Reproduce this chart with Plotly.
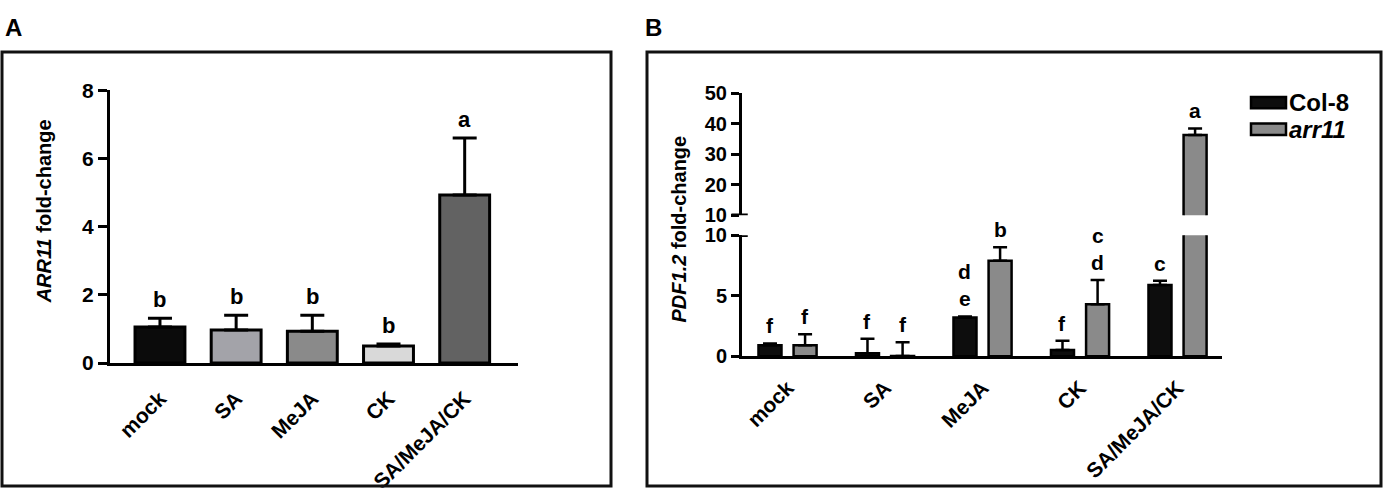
import plotly.graph_objects as go

W, H = 1387, 499
FONT = "Arial, Liberation Sans, sans-serif"

# panel A: ARR11 fold-change
treatments = ["mock", "SA", "MeJA", "CK", "SA/MeJA/CK"]
arr11_fc = [1.06, 0.97, 0.93, 0.50, 4.93]
arr11_fc_err = [0.25, 0.43, 0.47, 0.06, 1.67]
arr11_letters = ["b", "b", "b", "b", "a"]
bar_colors_a = ["#0b0b0b", "#a3a3a9", "#8a8a8a", "#d9d9d9", "#626262"]

# panel B: PDF1.2 fold-change
genotypes = ["Col-8", "arr11"]
col8_fc = [0.92, 0.25, 3.2, 0.53, 5.9]
col8_fc_err = [0.15, 1.2, 0.1, 0.76, 0.34]
col8_letters = ["f", "f", "d\ne", "f", "c"]
arr11_mut_fc = [0.92, 0.02, 7.9, 4.3, 36.3]
arr11_mut_fc_err = [0.9, 1.15, 1.1, 2.0, 2.1]
arr11_mut_letters = ["f", "f", "b", "c\nd", "a"]
geno_colors = ["#0d0d0d", "#8a8a8a"]


def px(x):
    return x / W


def py(y):
    return 1 - y / H


fig = go.Figure()

# ---- panel A bars
fig.add_trace(go.Bar(
    x=treatments, y=arr11_fc, width=0.655,
    marker=dict(color=bar_colors_a, line=dict(color="black", width=3)),
    error_y=dict(type="data", symmetric=False, array=arr11_fc_err,
                 arrayminus=[0] * len(arr11_fc), color="black", thickness=3, width=12),
    xaxis="x", yaxis="y", showlegend=False,
))

# ---- panel B bars (broken axis: lower 0-10, upper 10-50)
bw = 0.236
offsets = [-0.18, 0.18]
series_b = [(col8_fc, col8_fc_err), (arr11_mut_fc, arr11_mut_fc_err)]
for yax in ["y2", "y3"]:
    for (vals, errs), off, col in zip(series_b, offsets, geno_colors):
        fig.add_trace(go.Bar(
            x=treatments, y=vals, width=bw, offset=off - bw / 2,
            marker=dict(color=col, line=dict(color="black", width=2.5)),
            error_y=dict(type="data", symmetric=False, array=errs,
                         arrayminus=[0] * len(vals), color="black", thickness=2.5, width=7),
            xaxis="x2", yaxis=yax, showlegend=False,
        ))

annotations = []


def add_letters(vals, errs, letters, xref, xoff, size, lower_max=None):
    for i, (v, e, lab) in enumerate(zip(vals, errs, letters)):
        yref = "y"
        if lower_max is not None:
            yref = "y3" if v + e > lower_max else "y2"
        for k, p in enumerate(reversed(lab.split("\n"))):
            annotations.append(dict(
                x=i + xoff, y=v + e, xref=xref, yref=yref, text=f"<b>{p}</b>",
                showarrow=False, yanchor="bottom", yshift=4 + 27 * k,
                font=dict(family=FONT, size=size, color="black"),
            ))


add_letters(arr11_fc, arr11_fc_err, arr11_letters, "x", 0, 22)
add_letters(col8_fc, col8_fc_err, col8_letters, "x2", offsets[0], 21, lower_max=10)
add_letters(arr11_mut_fc, arr11_mut_fc_err, arr11_mut_letters, "x2", offsets[1], 21, lower_max=10)

# panel labels and axis titles
annotations += [
    dict(x=px(3), y=py(16), xref="paper", yref="paper", text="<b>A</b>", showarrow=False,
         xanchor="left", yanchor="middle", font=dict(family=FONT, size=24, color="black")),
    dict(x=px(643), y=py(16), xref="paper", yref="paper", text="<b>B</b>", showarrow=False,
         xanchor="left", yanchor="middle", font=dict(family=FONT, size=24, color="black")),
    dict(x=px(44), y=py(209), xref="paper", yref="paper", textangle=-90,
         text="<b><i>ARR11</i> fold-change</b>", showarrow=False,
         xanchor="center", yanchor="middle", font=dict(family=FONT, size=20, color="black")),
    dict(x=px(679), y=py(228), xref="paper", yref="paper", textangle=-90,
         text="<b><i>PDF1.2</i> fold-change</b>", showarrow=False,
         xanchor="center", yanchor="middle", font=dict(family=FONT, size=20, color="black")),
]

# legend for panel B drawn by hand (wide swatches)
shapes = []
leg_y = [95, 123]
for name, col, yy in zip(genotypes, geno_colors, leg_y):
    shapes.append(dict(type="rect", xref="paper", yref="paper",
                       x0=px(1251), x1=px(1286), y0=py(yy + 6), y1=py(yy - 6),
                       fillcolor=col, line=dict(color="black", width=2.5)))
    txt = f"<b>{name}</b>" if name == "Col-8" else f"<b><i>{name}</i></b>"
    annotations.append(dict(x=px(1287), y=py(yy), xref="paper", yref="paper", text=txt,
                            showarrow=False, xanchor="left", yanchor="middle",
                            font=dict(family=FONT, size=24, color="black")))

# frames
for x0, x1 in [(2, 611), (647, 1381)]:
    shapes.append(dict(type="rect", xref="paper", yref="paper",
                       x0=px(x0), x1=px(x1), y0=py(497), y1=py(42),
                       line=dict(color="#111111", width=3)))

# break marks on the B y axis
for yr in ["y2", "y3"]:
    shapes.append(dict(type="line", xref="x2 domain", yref=yr, x0=-0.022, x1=0.012,
                       y0=10, y1=10, line=dict(color="black", width=3.5)))

tickfont_a = dict(family=FONT, size=21, color="black", weight="bold")
tickfont_b = dict(family=FONT, size=20, color="black", weight="bold")

fig.update_layout(
    width=W, height=H,
    margin=dict(l=0, r=0, t=0, b=0),
    paper_bgcolor="white", plot_bgcolor="white",
    barmode="overlay",
    showlegend=False,
    annotations=annotations,
    shapes=shapes,
    xaxis=dict(domain=[px(110), px(518)], range=[-0.656, 4.70], anchor="y",
               showline=True, linecolor="black", linewidth=3, ticks="",
               tickangle=-45, ticklabelstandoff=12, tickfont=tickfont_a,
               showgrid=False, zeroline=False),
    yaxis=dict(domain=[py(368), py(82)], range=[0, 8], anchor="x",
               tickvals=[0, 2, 4, 6, 8], showline=True, linecolor="black", linewidth=3,
               ticks="outside", ticklen=9, tickwidth=3, tickcolor="black",
               tickfont=tickfont_a, showgrid=False, zeroline=False),
    xaxis2=dict(domain=[px(742), px(1222)], range=[-0.467, 4.456], anchor="y2",
                showline=True, linecolor="black", linewidth=3, ticks="",
                tickangle=-45, ticklabelstandoff=8, tickfont=tickfont_a,
                showgrid=False, zeroline=False),
    yaxis2=dict(domain=[py(361), py(234)], range=[0, 10], anchor="x2",
                tickvals=[0, 5, 10], showline=True, linecolor="black", linewidth=3,
                ticks="outside", ticklen=8, tickwidth=3, tickcolor="black",
                tickfont=tickfont_b, showgrid=False, zeroline=False),
    yaxis3=dict(domain=[py(213), py(85)], range=[10, 50], anchor="x2",
                tickvals=[10, 20, 30, 40, 50], showline=True, linecolor="black", linewidth=3,
                ticks="outside", ticklen=8, tickwidth=3, tickcolor="black",
                tickfont=tickfont_b, showgrid=False, zeroline=False),
)

# drop the default page margin so the figure sits at the top-left corner
fig.write_html("out.html", config={"displayModeBar": False},
               post_script="document.body.style.margin='0px';")
